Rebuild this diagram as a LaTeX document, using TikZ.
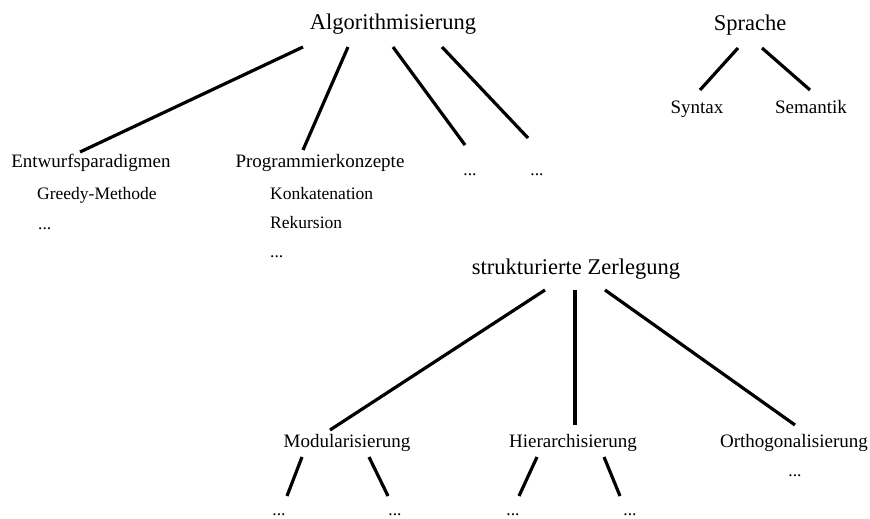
\documentclass[tikz,border=0pt]{standalone}
\usepackage{fontspec}
\setmainfont{Liberation Serif}
\usepackage{tikz}
\usetikzlibrary{positioning}

\begin{document}
\begin{tikzpicture}[x=1pt,y=-1pt,
    every node/.style={anchor=base,inner sep=0pt},
    big/.style={font=\fontsize{22.5}{26}\selectfont},
    mid/.style={font=\fontsize{19}{22}\selectfont},
    sml/.style={font=\fontsize{17.5}{20}\selectfont},
    item/.style={sml,anchor=base west},
    branch/.style={line width=3.2pt}]
    \useasboundingbox (0,0) rectangle (870,519);
    % top left tree
    \node[big] (alg) at (393,30) {Algorithmisierung};
    \node[mid] (ent) at (91,167) {Entwurfsparadigmen};
    \node[item] (greedy) at (37,199) {Greedy-Methode};
    \node[item] (entdots) at (38,229) {...};
    \node[mid] (prog) at (320,167) {Programmierkonzepte};
    \node[item] (konk) at (270,199) {Konkatenation};
    \node[item] (rek) at (270,228) {Rekursion};
    \node[item] (progdots) at (270,257) {...};
    \node[sml] (algdotsA) at (470,175) {...};
    \node[sml] (algdotsB) at (537,175) {...};
    \coordinate (a1) at (303,47);
    \coordinate (a2) at (348,47);
    \coordinate (a3) at (393,47);
    \coordinate (a4) at (442,47);
    \coordinate (e1) at (80,152);
    \coordinate (p1) at (303,150);
    \coordinate (d1) at (465,145);
    \coordinate (d2) at (528,138);
    \draw[branch] (a1)--(e1);
    \draw[branch] (a2)--(p1);
    \draw[branch] (a3)--(d1);
    \draw[branch] (a4)--(d2);
    % top right tree
    \node[big] (spr) at (750,31) {Sprache};
    \node[mid] (syn) at (697,113) {Syntax};
    \node[mid] (sem) at (811,113) {Semantik};
    \coordinate (s1) at (738,48);
    \coordinate (s2) at (762,48);
    \coordinate (y1) at (700,90);
    \coordinate (y2) at (810,90);
    \draw[branch] (s1)--(y1);
    \draw[branch] (s2)--(y2);
    % bottom tree
    \node[big] (zerl) at (576,274) {strukturierte Zerlegung};
    \node[mid] (mod) at (347,447) {Modularisierung};
    \node[mid] (hier) at (573,447) {Hierarchisierung};
    \node[mid] (orth) at (794,447) {Orthogonalisierung};
    \node[sml] (orthdots) at (795,476) {...};
    \node[sml] (moddotsA) at (279,515) {...};
    \node[sml] (moddotsB) at (395,515) {...};
    \node[sml] (hierdotsA) at (513,515) {...};
    \node[sml] (hierdotsB) at (630,515) {...};
    \coordinate (z1) at (545,290);
    \coordinate (z2) at (575,290);
    \coordinate (z3) at (605,290);
    \coordinate (m0) at (330,430);
    \coordinate (h0) at (575,425);
    \coordinate (o0) at (795,425);
    \draw[branch] (z1)--(m0);
    \draw[branch] (z2)--(h0);
    \draw[branch] (z3)--(o0);
    \coordinate (m1) at (302,457);
    \coordinate (m2) at (369,457);
    \coordinate (m3) at (287,496);
    \coordinate (m4) at (388,496);
    \coordinate (h1) at (537,457);
    \coordinate (h2) at (604,457);
    \coordinate (h3) at (519,496);
    \coordinate (h4) at (620,496);
    \draw[branch] (m1)--(m3);
    \draw[branch] (m2)--(m4);
    \draw[branch] (h1)--(h3);
    \draw[branch] (h2)--(h4);
  \end{tikzpicture}
\end{document}
